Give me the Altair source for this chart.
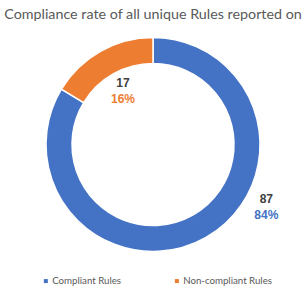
import math
import altair as alt
import pandas as pd

categories = ["Compliant Rules", "Non-compliant Rules"]
counts = [87, 17]
percents = ["84%", "16%"]
colors = ["#4472C4", "#ED7D31"]

df = pd.DataFrame({
    "category": categories,
    "count": counts,
    "pct": percents,
    "idx": list(range(len(categories))),
})

base = alt.Chart(df)

arc = base.mark_arc(outerRadius=107, innerRadius=81, stroke="white", strokeWidth=1.5).encode(
    theta=alt.Theta("count:Q", stack=True),
    color=alt.Color(
        "category:N",
        scale=alt.Scale(domain=categories, range=colors),
        legend=alt.Legend(
            title=None,
            orient="none",
            direction="horizontal",
            legendX=40,
            legendY=246,
            symbolType="square",
            symbolSize=16,
            symbolStrokeWidth=0,
            labelFont="Lato",
            labelFontSize=9.7,
            labelColor="#595959",
            gridAlign="each",
            columnPadding=50,
            labelOffset=1.5,
        ),
    ),
    order=alt.Order("idx:Q"),
)

def labels(cat, radius, dx, dy, color):
    t = (
        base.transform_joinaggregate(total="sum(count)")
        .transform_window(cum="sum(count)", sort=[alt.SortField("idx")], frame=[None, 0])
        .transform_calculate(mid="(datum.cum - datum.count / 2) / datum.total")
        .transform_filter(alt.datum.category == cat)
    )
    th = alt.Theta("mid:Q", scale=alt.Scale(domain=[0, 1], range=[0, 2 * math.pi]))
    num = t.mark_text(radius=radius, dx=dx, dy=dy - 8, font="Liberation Sans", fontSize=12,
                      fontWeight="bold", color="#404040").encode(theta=th, text="count:Q")
    pc = t.mark_text(radius=radius, dx=dx, dy=dy + 8, font="Liberation Sans", fontSize=12,
                     fontWeight="bold", color=color).encode(theta=th, text="pct:N")
    return num + pc

l1 = labels("Compliant Rules", 129, 50, -50, colors[0])
l2 = labels("Non-compliant Rules", 61, 0, 0, colors[1])

chart = (
    alt.layer(arc, l1, l2)
    .resolve_scale(theta="independent")
    .properties(
        width=304,
        height=229,
        autosize=alt.AutoSizeParams(type="none"),
        padding={"left": 1, "top": 30, "right": 0, "bottom": 34},
        title=alt.Title(
            "Compliance rate of all unique Rules reported on",
            font="Lato",
            fontSize=14.3,
            fontWeight="normal",
            color="#595959",
            offset=8,
        ),
    )
    .configure_view(stroke=None)
    .configure(background="white")
)

chart.save("out.html", embed_options={"renderer": "svg", "actions": False})
